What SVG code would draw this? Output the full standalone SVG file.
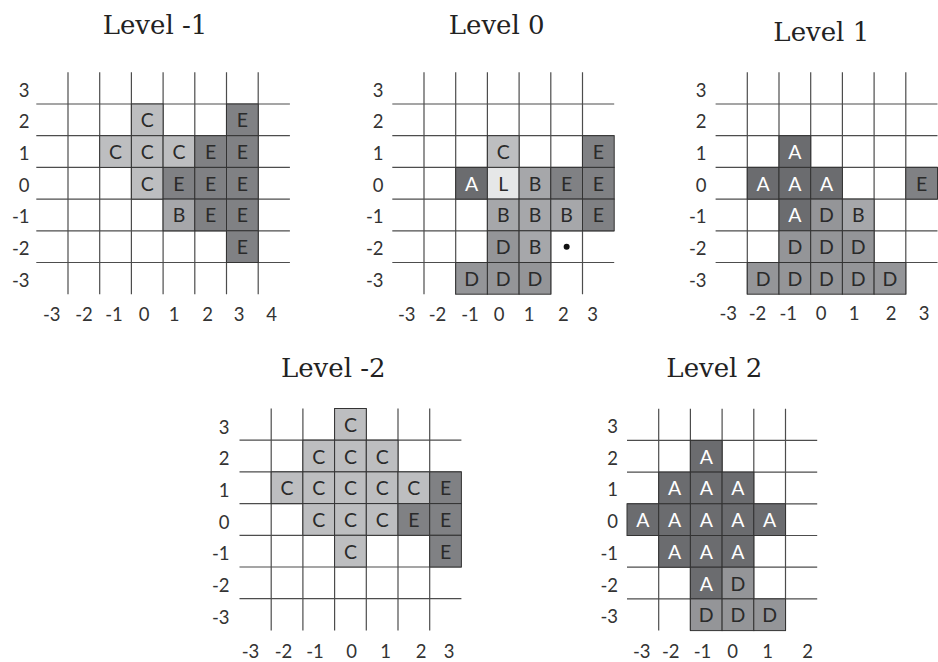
<svg xmlns="http://www.w3.org/2000/svg" width="938" height="662" viewBox="0 0 938 662">
<style>
.bg{fill:#fff}
.gl{stroke:#4d4d4d;stroke-width:1.2;fill:none}
.cell{stroke:#333;stroke-width:1}
.C{fill:#bdbec0}.E{fill:#808184}.B{fill:#a6a7aa}.D{fill:#949598}.A{fill:#6b6c6f}.L{fill:#e6e7e8}
.t{font-family:Lato,"Liberation Sans",sans-serif;font-weight:400;font-size:19.5px;text-anchor:middle;fill:#2a2a2a}
.w{fill:#fff}
.ax{font-family:Lato,"Liberation Sans",sans-serif;font-weight:400;font-size:18.5px;text-anchor:middle;fill:#333}
.ry{text-anchor:end}
.title{font-family:"DejaVu Serif","Liberation Serif",serif;font-size:26px;text-anchor:middle;fill:#222}
</style>
<rect class="bg" x="0" y="0" width="938" height="662"/>

<text class="title" x="155" y="34">Level -1</text>
<text class="title" x="496.7" y="34.3">Level 0</text>
<text class="title" x="821.3" y="40.7">Level 1</text>
<text class="title" x="333.3" y="376.7">Level -2</text>
<text class="title" x="714.3" y="376.7">Level 2</text>

<!-- Panel Level -1 -->
<g id="level-m1" transform="translate(36.3,72.3)">
<path class="gl" d="M0 31.7H253.6M0 63.4H253.6M0 95.1H253.6M0 126.8H253.6M0 158.5H253.6M0 190.2H253.6M31.7 0V221.9M63.4 0V221.9M95.1 0V221.9M126.8 0V221.9M158.5 0V221.9M190.2 0V221.9M221.9 0V221.9"/>
<rect class="cell C" x="95.1" y="31.7" width="31.7" height="31.7"/>
<rect class="cell E" x="190.2" y="31.7" width="31.7" height="31.7"/>
<rect class="cell C" x="63.4" y="63.4" width="31.7" height="31.7"/>
<rect class="cell C" x="95.1" y="63.4" width="31.7" height="31.7"/>
<rect class="cell C" x="126.8" y="63.4" width="31.7" height="31.7"/>
<rect class="cell E" x="158.5" y="63.4" width="31.7" height="31.7"/>
<rect class="cell E" x="190.2" y="63.4" width="31.7" height="31.7"/>
<rect class="cell C" x="95.1" y="95.1" width="31.7" height="31.7"/>
<rect class="cell E" x="126.8" y="95.1" width="31.7" height="31.7"/>
<rect class="cell E" x="158.5" y="95.1" width="31.7" height="31.7"/>
<rect class="cell E" x="190.2" y="95.1" width="31.7" height="31.7"/>
<rect class="cell B" x="126.8" y="126.8" width="31.7" height="31.7"/>
<rect class="cell E" x="158.5" y="126.8" width="31.7" height="31.7"/>
<rect class="cell E" x="190.2" y="126.8" width="31.7" height="31.7"/>
<rect class="cell E" x="190.2" y="158.5" width="31.7" height="31.7"/>
<text class="t" x="110.95" y="55.05">C</text>
<text class="t" x="206.05" y="55.05">E</text>
<text class="t" x="79.25" y="86.75">C</text>
<text class="t" x="110.95" y="86.75">C</text>
<text class="t" x="142.65" y="86.75">C</text>
<text class="t" x="174.35" y="86.75">E</text>
<text class="t" x="206.05" y="86.75">E</text>
<text class="t" x="110.95" y="118.45">C</text>
<text class="t" x="142.65" y="118.45">E</text>
<text class="t" x="174.35" y="118.45">E</text>
<text class="t" x="206.05" y="118.45">E</text>
<text class="t" x="142.65" y="150.15">B</text>
<text class="t" x="174.35" y="150.15">E</text>
<text class="t" x="206.05" y="150.15">E</text>
<text class="t" x="206.05" y="181.85">E</text>
<g class="ax">
<g class="ry"><text x="-6.8" y="24.35">3</text><text x="-6.8" y="56.05">2</text><text x="-6.8" y="87.75">1</text><text x="-6.8" y="119.45">0</text><text x="-6.8" y="151.15">-1</text><text x="-6.8" y="182.85">-2</text><text x="-6.8" y="214.55">-3</text></g>
<text x="15.4" y="249.2">-3</text><text x="47.7" y="249.2">-2</text><text x="77.7" y="249.2">-1</text><text x="107.7" y="249.2">0</text><text x="137.7" y="249.2">1</text><text x="171.2" y="249.2">2</text><text x="202.7" y="249.2">3</text><text x="235.4" y="249.2">4</text>
</g>
</g>

<!-- Panel Level 0 -->
<g id="level-0" transform="translate(392.3,72.3)">
<path class="gl" d="M0 31.7H221.9M0 63.4H221.9M0 95.1H221.9M0 126.8H221.9M0 158.5H221.9M0 190.2H221.9M31.7 0V221.9M63.4 0V221.9M95.1 0V221.9M126.8 0V221.9M158.5 0V221.9M190.2 0V221.9"/>
<rect class="cell C" x="95.1" y="63.4" width="31.7" height="31.7"/>
<rect class="cell E" x="190.2" y="63.4" width="31.7" height="31.7"/>
<rect class="cell A" x="63.4" y="95.1" width="31.7" height="31.7"/>
<rect class="cell L" x="95.1" y="95.1" width="31.7" height="31.7"/>
<rect class="cell B" x="126.8" y="95.1" width="31.7" height="31.7"/>
<rect class="cell E" x="158.5" y="95.1" width="31.7" height="31.7"/>
<rect class="cell E" x="190.2" y="95.1" width="31.7" height="31.7"/>
<rect class="cell B" x="95.1" y="126.8" width="31.7" height="31.7"/>
<rect class="cell B" x="126.8" y="126.8" width="31.7" height="31.7"/>
<rect class="cell B" x="158.5" y="126.8" width="31.7" height="31.7"/>
<rect class="cell E" x="190.2" y="126.8" width="31.7" height="31.7"/>
<rect class="cell D" x="95.1" y="158.5" width="31.7" height="31.7"/>
<rect class="cell B" x="126.8" y="158.5" width="31.7" height="31.7"/>
<rect class="cell D" x="63.4" y="190.2" width="31.7" height="31.7"/>
<rect class="cell D" x="95.1" y="190.2" width="31.7" height="31.7"/>
<rect class="cell D" x="126.8" y="190.2" width="31.7" height="31.7"/>
<circle cx="174.35" cy="174.35" r="3" fill="#111"/>
<text class="t" x="110.95" y="86.75">C</text>
<text class="t" x="206.05" y="86.75">E</text>
<text class="t w" x="79.25" y="118.45">A</text>
<text class="t" x="110.95" y="118.45">L</text>
<text class="t" x="142.65" y="118.45">B</text>
<text class="t" x="174.35" y="118.45">E</text>
<text class="t" x="206.05" y="118.45">E</text>
<text class="t" x="110.95" y="150.15">B</text>
<text class="t" x="142.65" y="150.15">B</text>
<text class="t" x="174.35" y="150.15">B</text>
<text class="t" x="206.05" y="150.15">E</text>
<text class="t" x="110.95" y="181.85">D</text>
<text class="t" x="142.65" y="181.85">B</text>
<text class="t" x="79.25" y="213.55">D</text>
<text class="t" x="110.95" y="213.55">D</text>
<text class="t" x="142.65" y="213.55">D</text>
<g class="ax">
<g class="ry"><text x="-8.8" y="24.35">3</text><text x="-8.8" y="56.05">2</text><text x="-8.8" y="87.75">1</text><text x="-8.8" y="119.45">0</text><text x="-8.8" y="151.15">-1</text><text x="-8.8" y="182.85">-2</text><text x="-8.8" y="214.55">-3</text></g>
<text x="14.4" y="249.2">-3</text><text x="45.2" y="249.2">-2</text><text x="77.7" y="249.2">-1</text><text x="106.7" y="249.2">0</text><text x="136.7" y="249.2">1</text><text x="171" y="249.2">2</text><text x="200.2" y="249.2">3</text>
</g>
</g>

<!-- Panel Level 1 -->
<g id="level-1" transform="translate(715.6,72.3)">
<path class="gl" d="M0 31.7H221.9M0 63.4H221.9M0 95.1H221.9M0 126.8H221.9M0 158.5H221.9M0 190.2H221.9M31.7 0V221.9M63.4 0V221.9M95.1 0V221.9M126.8 0V221.9M158.5 0V221.9M190.2 0V221.9"/>
<rect class="cell A" x="63.4" y="63.4" width="31.7" height="31.7"/>
<rect class="cell A" x="31.7" y="95.1" width="31.7" height="31.7"/>
<rect class="cell A" x="63.4" y="95.1" width="31.7" height="31.7"/>
<rect class="cell A" x="95.1" y="95.1" width="31.7" height="31.7"/>
<rect class="cell E" x="190.2" y="95.1" width="31.7" height="31.7"/>
<rect class="cell A" x="63.4" y="126.8" width="31.7" height="31.7"/>
<rect class="cell D" x="95.1" y="126.8" width="31.7" height="31.7"/>
<rect class="cell B" x="126.8" y="126.8" width="31.7" height="31.7"/>
<rect class="cell D" x="63.4" y="158.5" width="31.7" height="31.7"/>
<rect class="cell D" x="95.1" y="158.5" width="31.7" height="31.7"/>
<rect class="cell D" x="126.8" y="158.5" width="31.7" height="31.7"/>
<rect class="cell D" x="31.7" y="190.2" width="31.7" height="31.7"/>
<rect class="cell D" x="63.4" y="190.2" width="31.7" height="31.7"/>
<rect class="cell D" x="95.1" y="190.2" width="31.7" height="31.7"/>
<rect class="cell D" x="126.8" y="190.2" width="31.7" height="31.7"/>
<rect class="cell D" x="158.5" y="190.2" width="31.7" height="31.7"/>
<text class="t w" x="79.25" y="86.75">A</text>
<text class="t w" x="47.55" y="118.45">A</text>
<text class="t w" x="79.25" y="118.45">A</text>
<text class="t w" x="110.95" y="118.45">A</text>
<text class="t" x="206.05" y="118.45">E</text>
<text class="t w" x="79.25" y="150.15">A</text>
<text class="t" x="110.95" y="150.15">D</text>
<text class="t" x="142.65" y="150.15">B</text>
<text class="t" x="79.25" y="181.85">D</text>
<text class="t" x="110.95" y="181.85">D</text>
<text class="t" x="142.65" y="181.85">D</text>
<text class="t" x="47.55" y="213.55">D</text>
<text class="t" x="79.25" y="213.55">D</text>
<text class="t" x="110.95" y="213.55">D</text>
<text class="t" x="142.65" y="213.55">D</text>
<text class="t" x="174.35" y="213.55">D</text>
<g class="ax">
<g class="ry"><text x="-9.1" y="24.35">3</text><text x="-9.1" y="56.05">2</text><text x="-9.1" y="87.75">1</text><text x="-9.1" y="119.45">0</text><text x="-9.1" y="151.15">-1</text><text x="-9.1" y="182.85">-2</text><text x="-9.1" y="214.55">-3</text></g>
<text x="12.7" y="248.2">-3</text><text x="41.9" y="248.2">-2</text><text x="72.7" y="248.2">-1</text><text x="105.4" y="248.2">0</text><text x="138.4" y="248.2">1</text><text x="175.4" y="248.2">2</text><text x="208.4" y="248.2">3</text>
</g>
</g>

<!-- Panel Level -2 -->
<g id="level-m2" transform="translate(239.5,408.5)">
<path class="gl" d="M0 31.7H221.9M0 63.4H221.9M0 95.1H221.9M0 126.8H221.9M0 158.5H221.9M0 190.2H221.9M31.7 0V221.9M63.4 0V221.9M95.1 0V221.9M126.8 0V221.9M158.5 0V221.9M190.2 0V221.9"/>
<rect class="cell C" x="95.1" y="0" width="31.7" height="31.7"/>
<rect class="cell C" x="63.4" y="31.7" width="31.7" height="31.7"/>
<rect class="cell C" x="95.1" y="31.7" width="31.7" height="31.7"/>
<rect class="cell C" x="126.8" y="31.7" width="31.7" height="31.7"/>
<rect class="cell C" x="31.7" y="63.4" width="31.7" height="31.7"/>
<rect class="cell C" x="63.4" y="63.4" width="31.7" height="31.7"/>
<rect class="cell C" x="95.1" y="63.4" width="31.7" height="31.7"/>
<rect class="cell C" x="126.8" y="63.4" width="31.7" height="31.7"/>
<rect class="cell C" x="158.5" y="63.4" width="31.7" height="31.7"/>
<rect class="cell E" x="190.2" y="63.4" width="31.7" height="31.7"/>
<rect class="cell C" x="63.4" y="95.1" width="31.7" height="31.7"/>
<rect class="cell C" x="95.1" y="95.1" width="31.7" height="31.7"/>
<rect class="cell C" x="126.8" y="95.1" width="31.7" height="31.7"/>
<rect class="cell E" x="158.5" y="95.1" width="31.7" height="31.7"/>
<rect class="cell E" x="190.2" y="95.1" width="31.7" height="31.7"/>
<rect class="cell C" x="95.1" y="126.8" width="31.7" height="31.7"/>
<rect class="cell E" x="190.2" y="126.8" width="31.7" height="31.7"/>
<text class="t" x="110.95" y="23.35">C</text>
<text class="t" x="79.25" y="55.05">C</text>
<text class="t" x="110.95" y="55.05">C</text>
<text class="t" x="142.65" y="55.05">C</text>
<text class="t" x="47.55" y="86.75">C</text>
<text class="t" x="79.25" y="86.75">C</text>
<text class="t" x="110.95" y="86.75">C</text>
<text class="t" x="142.65" y="86.75">C</text>
<text class="t" x="174.35" y="86.75">C</text>
<text class="t" x="206.05" y="86.75">E</text>
<text class="t" x="79.25" y="118.45">C</text>
<text class="t" x="110.95" y="118.45">C</text>
<text class="t" x="142.65" y="118.45">C</text>
<text class="t" x="174.35" y="118.45">E</text>
<text class="t" x="206.05" y="118.45">E</text>
<text class="t" x="110.95" y="150.15">C</text>
<text class="t" x="206.05" y="150.15">E</text>
<g class="ax">
<g class="ry"><text x="-10" y="25">3</text><text x="-10" y="56.7">2</text><text x="-10" y="88.4">1</text><text x="-10" y="120.1">0</text><text x="-10" y="151.8">-1</text><text x="-10" y="183.5">-2</text><text x="-10" y="215.2">-3</text></g>
<text x="11" y="249.5">-3</text><text x="44" y="249.5">-2</text><text x="75.5" y="249.5">-1</text><text x="112" y="249.5">0</text><text x="146" y="249.5">1</text><text x="181.5" y="249.5">2</text><text x="209.5" y="249.5">3</text>
</g>
</g>

<!-- Panel Level 2 -->
<g id="level-2" transform="translate(627,408.7)">
<path class="gl" d="M0 31.7H190.2M0 63.4H190.2M0 95.1H190.2M0 126.8H190.2M0 158.5H190.2M0 190.2H190.2M31.7 0V221.9M63.4 0V221.9M95.1 0V221.9M126.8 0V221.9M158.5 0V221.9"/>
<rect class="cell A" x="63.4" y="31.7" width="31.7" height="31.7"/>
<rect class="cell A" x="31.7" y="63.4" width="31.7" height="31.7"/>
<rect class="cell A" x="63.4" y="63.4" width="31.7" height="31.7"/>
<rect class="cell A" x="95.1" y="63.4" width="31.7" height="31.7"/>
<rect class="cell A" x="0" y="95.1" width="31.7" height="31.7"/>
<rect class="cell A" x="31.7" y="95.1" width="31.7" height="31.7"/>
<rect class="cell A" x="63.4" y="95.1" width="31.7" height="31.7"/>
<rect class="cell A" x="95.1" y="95.1" width="31.7" height="31.7"/>
<rect class="cell A" x="126.8" y="95.1" width="31.7" height="31.7"/>
<rect class="cell A" x="31.7" y="126.8" width="31.7" height="31.7"/>
<rect class="cell A" x="63.4" y="126.8" width="31.7" height="31.7"/>
<rect class="cell A" x="95.1" y="126.8" width="31.7" height="31.7"/>
<rect class="cell A" x="63.4" y="158.5" width="31.7" height="31.7"/>
<rect class="cell D" x="95.1" y="158.5" width="31.7" height="31.7"/>
<rect class="cell D" x="63.4" y="190.2" width="31.7" height="31.7"/>
<rect class="cell D" x="95.1" y="190.2" width="31.7" height="31.7"/>
<rect class="cell D" x="126.8" y="190.2" width="31.7" height="31.7"/>
<text class="t w" x="79.25" y="55.05">A</text>
<text class="t w" x="47.55" y="86.75">A</text>
<text class="t w" x="79.25" y="86.75">A</text>
<text class="t w" x="110.95" y="86.75">A</text>
<text class="t w" x="15.85" y="118.45">A</text>
<text class="t w" x="47.55" y="118.45">A</text>
<text class="t w" x="79.25" y="118.45">A</text>
<text class="t w" x="110.95" y="118.45">A</text>
<text class="t w" x="142.65" y="118.45">A</text>
<text class="t w" x="47.55" y="150.15">A</text>
<text class="t w" x="79.25" y="150.15">A</text>
<text class="t w" x="110.95" y="150.15">A</text>
<text class="t w" x="79.25" y="181.85">A</text>
<text class="t" x="110.95" y="181.85">D</text>
<text class="t" x="79.25" y="213.55">D</text>
<text class="t" x="110.95" y="213.55">D</text>
<text class="t" x="142.65" y="213.55">D</text>
<g class="ax">
<g class="ry"><text x="-9" y="24.35">3</text><text x="-9" y="56.05">2</text><text x="-9" y="87.75">1</text><text x="-9" y="119.45">0</text><text x="-9" y="151.15">-1</text><text x="-9" y="182.85">-2</text><text x="-9" y="214.55">-3</text></g>
<text x="14.7" y="249.3">-3</text><text x="43.8" y="249.3">-2</text><text x="75.5" y="249.3">-1</text><text x="105.5" y="249.3">0</text><text x="140.5" y="249.3">1</text><text x="180.5" y="249.3">2</text>
</g>
</g>
</svg>
